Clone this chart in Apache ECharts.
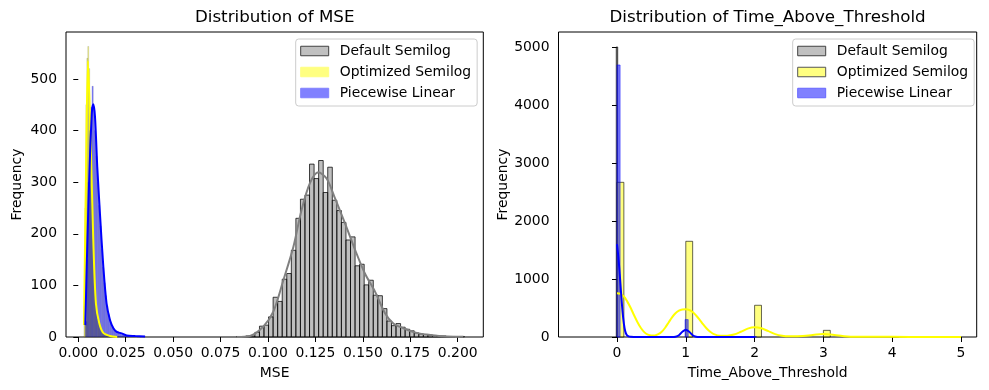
<!DOCTYPE html>
<html><head><meta charset="utf-8">
<script src="https://cdn.jsdelivr.net/npm/echarts@6/dist/echarts.min.js"></script>
<style>html,body{margin:0;padding:0;background:#fff}#c{width:989px;height:390px}</style>
</head><body><div id="c"></div><script>
// ---------- data ----------
const seriesNames = ['Default Semilog', 'Optimized Semilog', 'Piecewise Linear'];
const titles = ['Distribution of MSE', 'Distribution of Time_Above_Threshold'];
const xNames = ['MSE', 'Time_Above_Threshold'];
const mseXTicks = [0, 0.025, 0.05, 0.075, 0.1, 0.125, 0.15, 0.175, 0.2];
const mseYTicks = [0, 100, 200, 300, 400, 500];
const tatXTicks = [0, 1, 2, 3, 4, 5];
const tatYTicks = [0, 1000, 2000, 3000, 4000, 5000];

// MSE histograms: [first bin edge, bin width] and counts
const mseDefaultBins = [0.0835, 0.0024];
const mseDefaultCounts = [1,1,2,2,9,21,23,39,77,69,112,123,168,230,267,275,335,307,342,280,329,265,245,222,188,194,138,141,101,110,81,80,55,31,22,26,19,15,12,8,6,5,4,3,2,2,1,1,0,1];
const mseOptimizedBins = [0.003, 0.0005];
const mseOptimizedCounts = [60,250,450,540,563,520,430,340,260,190,130,90,65,45,35,27,21,15,11,8,6,5,4,3,3,2,2,1,1,1,1,0,1,0,1];
const msePiecewiseBins = [0.0037, 0.0007];
const msePiecewiseCounts = [30,150,300,400,445,486,440,400,350,300,255,215,170,135,105,80,60,45,35,27,20,16,14,12,11,9,7,5,4,3,3,2,2,1,2,1,1,1,0,1,0,1,0,0,1];

// MSE KDE curves [x, y]
const mseDefaultKde = [[0.0835,0],[0.0905,2],[0.0975,20],[0.1028,49],[0.1081,110],[0.1134,175],[0.1177,246],[0.1221,298],[0.1265,319],[0.1309,307],[0.1353,269],[0.1406,220],[0.1459,169],[0.1511,123],[0.1564,88],[0.1617,46],[0.1661,26],[0.1714,17],[0.1784,8],[0.1854,4],[0.1942,1],[0.2030,0.5]];
const mseOptimizedKde = [[0.0030,23],[0.0040,300],[0.0051,535],[0.0065,382],[0.0079,188],[0.0093,65],[0.0111,26],[0.0132,8],[0.0167,2],[0.0205,0]];
const msePiecewiseKde = [[0.0037,23],[0.0053,253],[0.0071,433],[0.0079,451],[0.0088,427],[0.0100,330],[0.0114,240],[0.0132,136],[0.0149,65],[0.0167,33],[0.0185,17],[0.0202,10],[0.0228,7],[0.0255,3],[0.0300,2],[0.0352,1]];

// Time_Above_Threshold histograms
const tatDefaultBins = [-0.01, 0.02];
const tatDefaultCounts = [5000];
const tatOptimizedBins = [0, 0.1];
const tatOptimizedCounts = [2667,0,0,0,0,0,0,0,0,0, 1650,0,0,0,0,0,0,0,0,0, 547,0,0,0,0,0,0,0,0,0, 115,0,0,0,0,0,0,0,0,0, 6,0,0,0,0,0,0,0,0,2];
const tatPiecewiseBins = [0, 0.045];
const tatPiecewiseCounts = [4690,0,0,0,0,0,0,0,0,0,0,0,0,0,0,0,0,0,0,0,0,0, 300,0,0,0,0,0,0,0,0,0,0,0,0,0,0,0,0,0,0,0,0,0,8];

// Time_Above_Threshold KDE curves
const tatOptimizedKde = [[0,753],[0.05,745],[0.1,700],[0.15,610],[0.2,500],[0.25,370],[0.3,250],[0.35,150],[0.4,80],[0.45,40],[0.5,28],[0.55,28],[0.6,48],[0.65,90],[0.7,160],[0.75,250],[0.8,340],[0.85,410],[0.9,455],[0.95,475],[1.0,478],[1.05,465],[1.1,430],[1.15,370],[1.2,300],[1.25,220],[1.3,150],[1.35,95],[1.4,55],[1.5,22],[1.6,22],[1.7,42],[1.8,90],[1.9,145],[2.0,168],[2.1,150],[2.2,100],[2.3,50],[2.4,22],[2.5,12],[2.7,16],[2.9,42],[3.0,50],[3.1,42],[3.3,15],[3.5,5],[4.0,3],[4.5,1],[5.0,1]];
const tatPiecewiseKde = [[0,1600],[0.02,1380],[0.04,1080],[0.06,750],[0.08,450],[0.1,230],[0.12,100],[0.14,40],[0.17,10],[0.2,3],[0.3,0],[0.8,0],[0.85,5],[0.9,30],[0.95,90],[1.0,125],[1.05,90],[1.1,30],[1.15,5],[1.2,0],[2.0,0]];

// ---------- styles ----------
const FONT = 'DejaVu Sans';
const C_GRAY = 'rgba(128,128,128,0.5)', C_YEL = 'rgba(255,255,0,0.5)', C_BLUE = 'rgba(0,0,255,0.5)';

function hist(name, axis, bins, counts, fill, stroke, lw) {
  const data = [];
  counts.forEach((c, i) => { if (c > 0) data.push([bins[0] + i * bins[1], bins[0] + (i + 1) * bins[1], c]); });
  return {
    type: 'custom', name, xAxisIndex: axis, yAxisIndex: axis, z: 2, silent: true,
    animation: false, data, encode: { x: [0, 1], y: 2 },
    renderItem(params, api) {
      const p0 = api.coord([api.value(0), api.value(2)]);
      const p1 = api.coord([api.value(1), 0]);
      return { type: 'rect', shape: { x: p0[0], y: p0[1], width: p1[0] - p0[0], height: p1[1] - p0[1] },
        style: { fill, stroke, lineWidth: lw } };
    }
  };
}
function kde(name, axis, pts, color) {
  return { type: 'line', name, xAxisIndex: axis, yAxisIndex: axis, z: 3, data: pts, showSymbol: false,
    smooth: 0.3, silent: true, animation: false, lineStyle: { color, width: 2 }, itemStyle: { color } };
}
const axisText = { fontFamily: FONT, fontSize: 13.9, color: '#000' };
function xAxis(i, min, max, ticks, fmt, name) {
  return { type: 'value', gridIndex: i, min, max, name, nameLocation: 'middle', nameGap: 29,
    nameTextStyle: axisText, splitLine: { show: false }, axisLine: { show: false },
    axisTick: { show: true, inside: false, length: 5, lineStyle: { color: '#000', width: 1 }, customValues: ticks },
    axisLabel: Object.assign({ margin: 9, customValues: ticks, formatter: fmt }, axisText) };
}
function yAxis(i, max, ticks, gap) {
  return { type: 'value', gridIndex: i, min: 0, max, name: 'Frequency', nameLocation: 'middle', nameGap: gap,
    nameTextStyle: axisText, splitLine: { show: false }, axisLine: { show: false },
    axisTick: { show: true, inside: false, length: 5, lineStyle: { color: '#000', width: 1 }, customValues: ticks },
    axisLabel: Object.assign({ margin: 9, customValues: ticks, formatter: v => String(Math.round(v)) }, axisText) };
}
function legend(left, yelEdge, blueEdge) {
  return { left, top: 39, orient: 'vertical', selectedMode: false, icon: 'rect',
    itemWidth: 28, itemHeight: 9.5, itemGap: 5, padding: [4, 6, 5, 4.5],
    backgroundColor: 'rgba(255,255,255,0.8)', borderColor: '#cccccc', borderWidth: 1, borderRadius: 3,
    textStyle: { fontFamily: FONT, fontSize: 13.9, color: '#000', lineHeight: 16, padding: [0, 0, 0, 6] },
    data: [
      { name: seriesNames[0], itemStyle: { color: '#c0c0c0', borderColor: '#404040', borderWidth: 1 } },
      { name: seriesNames[1], itemStyle: { color: '#ffff80', borderColor: yelEdge, borderWidth: 1 } },
      { name: seriesNames[2], itemStyle: { color: '#8080ff', borderColor: blueEdge, borderWidth: 1 } }
    ] };
}

const option = {
  backgroundColor: '#fff',
  animation: false,
  title: [
    { text: titles[0], left: 274.7, top: 9, textAlign: 'center', padding: 0, textStyle: { fontFamily: FONT, fontSize: 16.7, fontWeight: 'normal', color: '#000' } },
    { text: titles[1], left: 767.6, top: 9, textAlign: 'center', padding: 0, textStyle: { fontFamily: FONT, fontSize: 16.7, fontWeight: 'normal', color: '#000' } }
  ],
  grid: [
    { left: 66, top: 32, width: 417.3, height: 305, show: true, borderColor: '#000', borderWidth: 1, backgroundColor: 'transparent' },
    { left: 558.5, top: 32, width: 418.2, height: 305, show: true, borderColor: '#000', borderWidth: 1, backgroundColor: 'transparent' }
  ],
  xAxis: [
    xAxis(0, -0.00648, 0.2135, mseXTicks, v => v.toFixed(3), xNames[0]),
    xAxis(1, -0.85, 5.228, tatXTicks, v => String(Math.round(v)), xNames[1])
  ],
  yAxis: [ yAxis(0, 591, mseYTicks, 42), yAxis(1, 5259, tatYTicks, 47) ],
  legend: [ legend(295.7, '#ffff80', '#8080ff'), legend(792.7, '#555555', '#6666ff') ],
  series: [
    hist(seriesNames[0], 0, mseDefaultBins, mseDefaultCounts, C_GRAY, 'rgba(0,0,0,0.75)', 1),
    hist(seriesNames[1], 0, mseOptimizedBins, mseOptimizedCounts, C_YEL, 'rgba(0,0,0,0.35)', 0.4),
    hist(seriesNames[2], 0, msePiecewiseBins, msePiecewiseCounts, C_BLUE, 'rgba(0,0,0,0.25)', 0.4),
    kde('Default Semilog KDE', 0, mseDefaultKde, '#808080'),
    kde('Optimized Semilog KDE', 0, mseOptimizedKde, '#ffff00'),
    kde('Piecewise Linear KDE', 0, msePiecewiseKde, '#0000ff'),
    hist(seriesNames[0], 1, tatDefaultBins, tatDefaultCounts, C_GRAY, 'rgba(0,0,0,0.75)', 1),
    hist(seriesNames[1], 1, tatOptimizedBins, tatOptimizedCounts, C_YEL, 'rgba(0,0,0,0.6)', 1),
    hist(seriesNames[2], 1, tatPiecewiseBins, tatPiecewiseCounts, C_BLUE, 'rgba(0,0,255,0.5)', 1),
    kde('Optimized Semilog KDE ', 1, tatOptimizedKde, '#ffff00'),
    kde('Piecewise Linear KDE ', 1, tatPiecewiseKde, '#0000ff')
  ]
};
echarts.init(document.getElementById('c'), null, { renderer: 'canvas' }).setOption(option);
</script></body></html>
